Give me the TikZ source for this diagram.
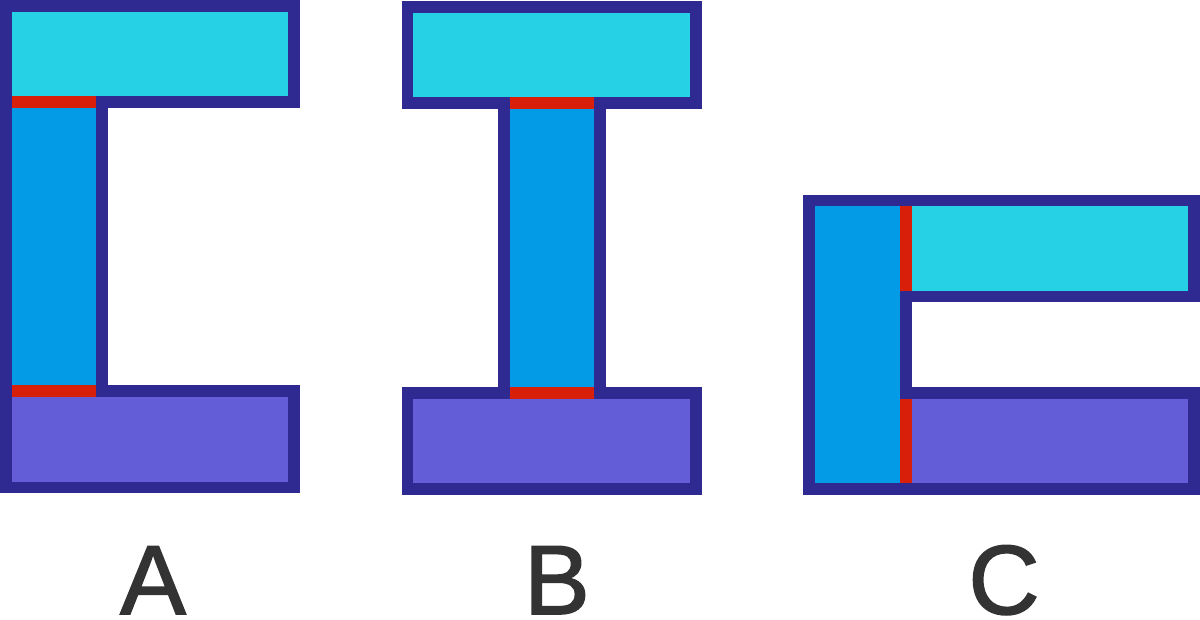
\documentclass[tikz,border=0pt]{standalone}
\usepackage{fontspec}
\setmainfont{Liberation Sans}
\newfontfamily\letraPieza[FakeBold=1.6]{Liberation Sans}
\usetikzlibrary{positioning}
\definecolor{azulmarino}{HTML}{2E2A91}
\definecolor{cianala}{HTML}{27D1E5}
\definecolor{azulalma}{HTML}{039BE5}
\definecolor{moradoala}{HTML}{635DD8}
\definecolor{rojojunta}{HTML}{D81F0A}
\definecolor{grisletra}{HTML}{333333}
\colorlet{colContorno}{azulmarino}
\colorlet{colAlaSup}{cianala}
\colorlet{colAlma}{azulalma}
\colorlet{colAlaInf}{moradoala}
\colorlet{colJunta}{rojojunta}
\tikzset{
  piezaBase/.style={draw=colContorno, line width=2.32mm, line join=miter},
  piezaAlaSup/.style={piezaBase, fill=colAlaSup},
  piezaAlma/.style={piezaBase, fill=colAlma},
  piezaAlaInf/.style={piezaBase, fill=colAlaInf},
  juntaRoja/.style={fill=colJunta},
  etiquetaPieza/.style={anchor=base, text=grisletra, inner sep=0pt,
    font=\letraPieza\fontsize{56}{60}\selectfont},
}
\begin{document}
\begin{tikzpicture}[x=0.02cm, y=-0.02cm]
    \useasboundingbox (0,0) rectangle (1200,619);

    \draw[piezaAlma] (5.8,101.9) rectangle (101.7,391.1);
    \draw[piezaAlaSup] (5.8,5.8) rectangle (294.2,101.9);
    \draw[piezaAlaInf] (5.8,391.1) rectangle (294.2,487.5);
    \fill[juntaRoja] (11.6,96.1) rectangle (95.9,107.7);
    \fill[juntaRoja] (11.6,385.3) rectangle (95.9,396.9);
    \node[etiquetaPieza] (etiqA) at (153,614) {A};

    \draw[piezaAlma] (503.8,103.2) rectangle (599.9,393.1);
    \draw[piezaAlaSup] (407.5,7.1) rectangle (696.2,103.2);
    \draw[piezaAlaInf] (407.5,393.1) rectangle (696.2,489.2);
    \fill[juntaRoja] (509.6,97.4) rectangle (594.1,109.0);
    \fill[juntaRoja] (509.6,387.3) rectangle (594.1,398.9);
    \node[etiquetaPieza] (etiqB) at (557,614) {B};

    \draw[piezaAlma] (809.1,200.5) rectangle (905.9,489.2);
    \draw[piezaAlaSup] (905.9,200.5) rectangle (1194.2,296.5);
    \draw[piezaAlaInf] (905.9,393.1) rectangle (1194.2,489.2);
    \fill[juntaRoja] (900.1,206.3) rectangle (911.7,290.7);
    \fill[juntaRoja] (900.1,398.9) rectangle (911.7,483.4);
    \node[etiquetaPieza] (etiqC) at (1004,614) {C};
  \end{tikzpicture}
\end{document}
